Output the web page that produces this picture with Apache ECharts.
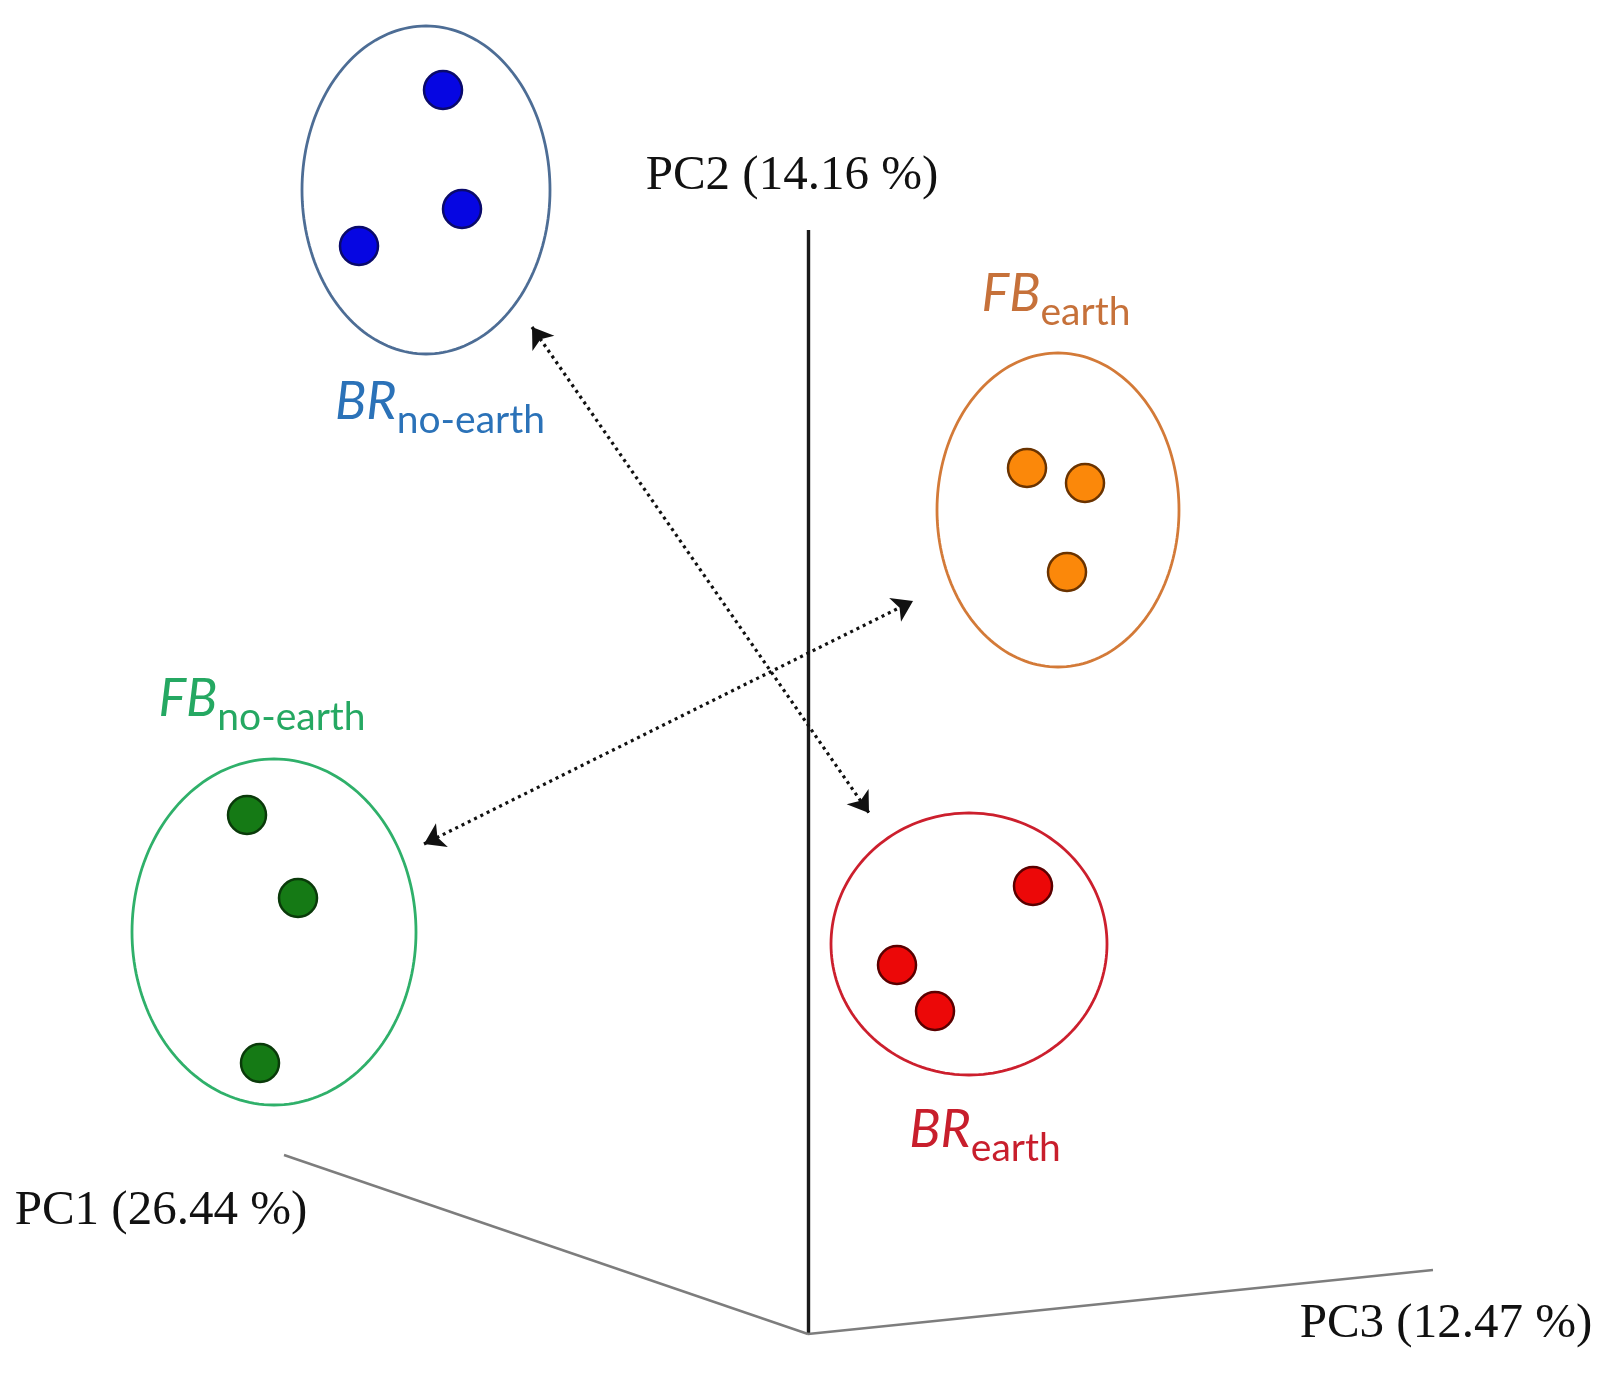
<!DOCTYPE html>
<html>
<head>
<meta charset="utf-8">
<title>PCA groups</title>
<script src="https://cdn.jsdelivr.net/npm/echarts@6/dist/echarts.min.js"></script>
<style>
  html, body { margin: 0; padding: 0; background: #fff; }
  #chart { width: 1603px; height: 1385px; }
</style>
</head>
<body>
<div id="chart"></div>
<script>
// groups, in picture units (x to the right, y downwards)
const groupNames = ['BR', 'FB', 'FB', 'BR'];
const groupSubs = ['no-earth', 'earth', 'no-earth', 'earth'];

const brNoEarthPts = [[443, 90], [462, 209], [359, 246]];
const fbEarthPts = [[1027, 468], [1085, 483], [1067, 572]];
const fbNoEarthPts = [[247, 815], [298, 898], [260, 1063]];
const brEarthPts = [[1033, 886], [897, 965], [935, 1011]];

// ellipse: centre x, centre y, radius x, radius y
const groupEllipses = [
  [426, 190, 124, 164],
  [1058, 510, 121, 157],
  [274, 932, 142, 173],
  [969, 944, 138, 131]
];
const groupLabelPos = [[440, 408], [1056, 300], [262, 705], [985, 1136]];

// axes of the 3d projection
const pc2Axis = [[808, 230], [808, 1334]];
const pc1Axis = [[284, 1155], [808, 1334]];
const pc3Axis = [[808, 1334], [1433, 1270]];
const axisTitles = ['PC1 (26.44 %)', 'PC2 (14.16 %)', 'PC3 (12.47 %)'];
const axisTitlePos = [[161, 1211], [792, 176], [1446, 1324]];

// dotted double arrows between groups
const arrowLinks = [
  [[424, 844], [913, 601]],
  [[532, 327], [869, 813]]
];

const ellipseColors = ['#4d6d95', '#d37a38', '#2fb06a', '#cc1f2d'];
const labelColors = ['#2b72b8', '#c6713a', '#25a862', '#c81e2c'];
const dotFill = ['#0606e2', '#fb880a', '#157a15', '#ec0808'];
const dotBorder = ['#0a0a6a', '#6a3300', '#0a3a0a', '#5a0000'];
const pointSets = [brNoEarthPts, fbEarthPts, fbNoEarthPts, brEarthPts];

const chart = echarts.init(document.getElementById('chart'));

const series = [];

series.push({
  type: 'custom',
  z: 1,
  data: groupEllipses,
  renderItem: function (params, api) {
    const c = api.coord([api.value(0), api.value(1)]);
    const s = api.size([api.value(2), api.value(3)]);
    const pts = [];
    for (let i = 0; i < 180; i++) {
      const a = (i / 180) * Math.PI * 2;
      pts.push([c[0] + s[0] * Math.cos(a), c[1] + s[1] * Math.sin(a)]);
    }
    return {
      type: 'polygon',
      shape: { points: pts },
      style: { fill: 'none', stroke: ellipseColors[params.dataIndex], lineWidth: 2.8 }
    };
  }
});

pointSets.forEach(function (pts, i) {
  series.push({
    type: 'scatter',
    z: 3,
    symbolSize: 38,
    data: pts,
    itemStyle: { color: dotFill[i], borderColor: dotBorder[i], borderWidth: 2.5, opacity: 1 }
  });
});

series.push({
  type: 'lines',
  coordinateSystem: 'cartesian2d',
  z: 2,
  data: [
    { coords: pc2Axis, lineStyle: { color: '#1a1a1a', width: 3.4, opacity: 1 } },
    { coords: pc1Axis, lineStyle: { color: '#7d7d7d', width: 2.4, opacity: 1 } },
    { coords: pc3Axis, lineStyle: { color: '#7d7d7d', width: 2.4, opacity: 1 } }
  ],
  symbol: 'none'
});

series.push({
  type: 'lines',
  coordinateSystem: 'cartesian2d',
  z: 4,
  data: arrowLinks.map(function (c) { return { coords: c }; }),
  symbol: ['arrow', 'arrow'],
  symbolSize: 20,
  lineStyle: { color: '#111111', width: 3.2, type: [3, 4], opacity: 1 }
});

series.push({
  type: 'scatter',
  z: 5,
  symbolSize: 1,
  itemStyle: { color: 'rgba(0,0,0,0)', opacity: 1 },
  data: axisTitlePos.map(function (p, i) { return { value: p, name: axisTitles[i] }; }),
  label: {
    show: true,
    position: 'inside',
    formatter: '{b}',
    fontFamily: 'Liberation Serif',
    fontSize: 49,
    color: '#111'
  }
});

series.push({
  type: 'scatter',
  z: 5,
  symbolSize: 1,
  itemStyle: { color: 'rgba(0,0,0,0)', opacity: 1 },
  data: groupLabelPos.map(function (p, i) { return { value: p, name: groupNames[i] }; }),
  label: {
    show: true,
    position: 'inside',
    formatter: function (p) {
      const i = p.dataIndex;
      return '{m' + i + '|' + groupNames[i] + '}{s' + i + '|' + groupSubs[i] + '}';
    },
    rich: (function () {
      const r = {};
      labelColors.forEach(function (col, i) {
        r['m' + i] = { fontFamily: 'Lato', fontStyle: 'italic', fontSize: 52, color: col, verticalAlign: 'bottom', padding: [0, 0, 12, 0] };
        r['s' + i] = { fontFamily: 'Lato', fontSize: 39, color: col, verticalAlign: 'bottom' };
      });
      return r;
    })()
  }
});

chart.setOption({
  animation: false,
  backgroundColor: '#ffffff',
  grid: { left: 0, right: 0, top: 0, bottom: 0 },
  xAxis: { type: 'value', min: 0, max: 1603, show: false },
  yAxis: { type: 'value', min: 0, max: 1385, inverse: true, show: false },
  series: series
});
</script>
</body>
</html>
